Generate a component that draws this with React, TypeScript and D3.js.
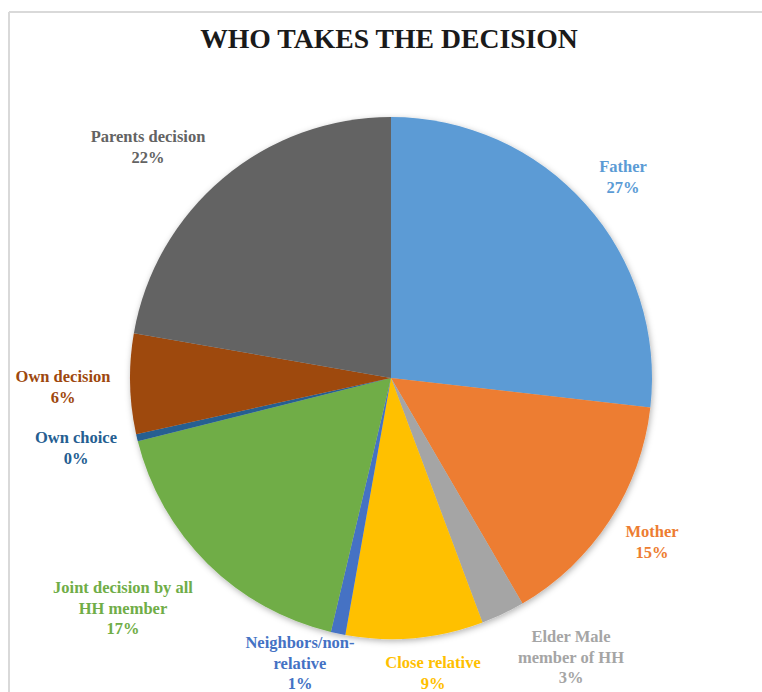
import React from "react";
import * as d3 from "d3";

const categories = [
  "Father",
  "Mother",
  "Elder Male member of HH",
  "Close relative",
  "Neighbors/non-relative",
  "Joint decision by all HH member",
  "Own choice",
  "Own decision",
  "Parents decision",
];
const values = [26.8, 14.8, 2.7, 8.5, 0.9, 17.4, 0.45, 6.2, 22.25];
const colors = [
  "#5B9BD5",
  "#ED7D31",
  "#A5A5A5",
  "#FFC000",
  "#4472C4",
  "#70AD47",
  "#255E91",
  "#9E480E",
  "#636363",
];
const labelLines = [
  ["Father"],
  ["Mother"],
  ["Elder Male", "member of HH"],
  ["Close relative"],
  ["Neighbors/non-", "relative"],
  ["Joint decision by all", "HH member"],
  ["Own choice"],
  ["Own decision"],
  ["Parents decision"],
];
// label anchor positions (layout)
const labelPos: [number, number][] = [
  [623, 172],
  [652, 537],
  [571, 642],
  [433, 668],
  [300, 648],
  [123, 593],
  [76, 443],
  [63, 382],
  [148, 142],
];

const W = 762;
const H = 692;
const cx = 391;
const cy = 378;
const R = 261;

export default function App() {
  const total = d3.sum(values);
  const pie = d3
    .pie<number>()
    .sort(null)
    .value((d) => d)(values);
  const arc = d3.arc<d3.PieArcDatum<number>>().innerRadius(0).outerRadius(R);
  const font =
    "'Liberation Serif', 'DejaVu Serif', 'Noto Serif', 'Times New Roman', Times, Georgia, serif";
  const lh = 20.5;
  return (
    <svg
      width={W}
      height={H}
      style={{ position: "absolute", left: 0, top: 0, background: "#fff" }}
    >
      <defs>
        <filter id="sh" x="-10%" y="-10%" width="120%" height="120%">
          <feDropShadow dx="1" dy="2" stdDeviation="3" floodColor="#000" floodOpacity="0.3" />
        </filter>
      </defs>
      <rect x={0} y={0} width={W} height={H} fill="#fff" />
      <line x1={9} y1={12} x2={W} y2={12} stroke="#d9d9d9" strokeWidth={2} />
      <line x1={9} y1={12} x2={9} y2={H} stroke="#d9d9d9" strokeWidth={2} />
      <text
        x={389}
        y={48}
        textAnchor="middle"
        style={{ fontFamily: font, fontWeight: "bold", fontSize: "27.7px" }}
        fill="#1a1a1a"
      >
        WHO TAKES THE DECISION
      </text>
      <g transform={`translate(${cx},${cy})`} filter="url(#sh)">
        {pie.map((p, i) => (
          <path key={i} d={arc(p) || ""} fill={colors[i]} />
        ))}
      </g>
      {categories.map((c, i) => {
        const lines = [...labelLines[i], `${Math.round((values[i] / total) * 100)}%`];
        const [x, y] = labelPos[i];
        return (
          <text
            key={c}
            x={x}
            y={y}
            textAnchor="middle"
            style={{ fontFamily: font, fontWeight: "bold", fontSize: "16.5px" }}
            fill={colors[i]}
          >
            {lines.map((l, j) => (
              <tspan key={j} x={x} y={y + j * lh}>
                {l}
              </tspan>
            ))}
          </text>
        );
      })}
    </svg>
  );
}
